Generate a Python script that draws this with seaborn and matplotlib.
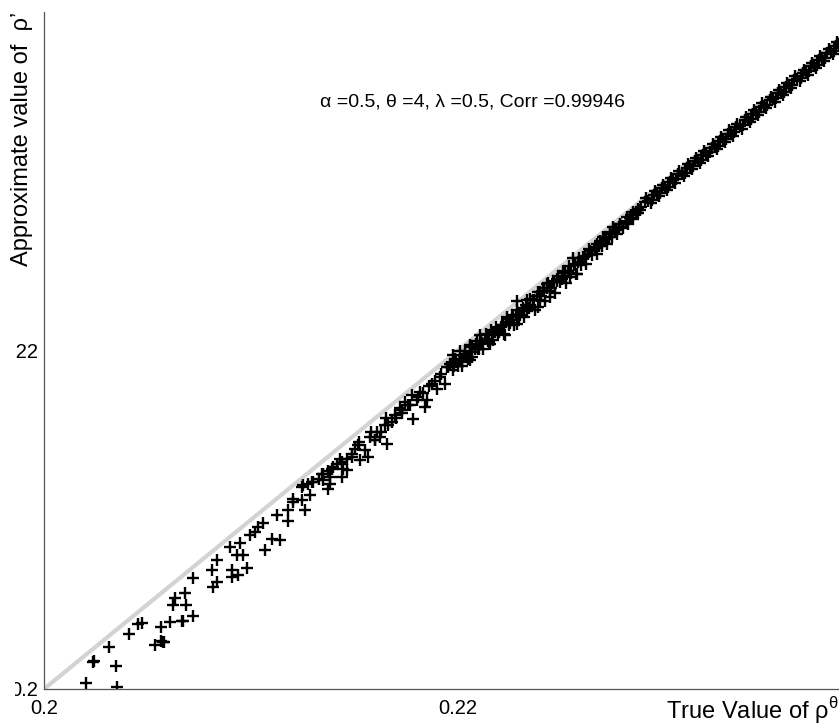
import numpy as np
import pandas as pd
import matplotlib
matplotlib.use("Agg")
import matplotlib.pyplot as plt
import seaborn as sns
from matplotlib.transforms import Bbox, TransformedBbox

# ---- data ----
# sparse lower part of the cloud
sparse_x = [0.20201, 0.20351, 0.20346, 0.20238, 0.20242, 0.20315, 0.20411, 0.20456, 0.20472,
            0.20536, 0.20573, 0.20565, 0.20580, 0.20564, 0.20609, 0.20665, 0.20672, 0.20721,
            0.20625, 0.20633, 0.20681, 0.20686, 0.20721, 0.20815, 0.20834, 0.20810, 0.20834,
            0.20907, 0.20907, 0.20939, 0.20979, 0.20899, 0.20947, 0.20931, 0.20963, 0.21068,
            0.20995, 0.21019, 0.21035, 0.21059, 0.21100, 0.21140, 0.21124, 0.21180, 0.21180,
            0.21204, 0.21204, 0.21261, 0.21245, 0.21285, 0.21245, 0.21277, 0.21301, 0.21342,
            0.21349, 0.21373, 0.21382, 0.21390, 0.21414, 0.21438, 0.21446, 0.21462, 0.21430]
sparse_y = [0.20037, 0.20010, 0.20137, 0.20161, 0.20163, 0.20250, 0.20325, 0.20384, 0.20391,
            0.20260, 0.20279, 0.20284, 0.20275, 0.20364, 0.20394, 0.20403, 0.20400, 0.20431,
            0.20496, 0.20535, 0.20568, 0.20496, 0.20653, 0.20600, 0.20633, 0.20702, 0.20761,
            0.20663, 0.20706, 0.20673, 0.20712, 0.20840, 0.20860, 0.20791, 0.20791, 0.20824,
            0.20909, 0.20928, 0.20958, 0.20978, 0.20889, 0.20879, 0.21027, 0.20993, 0.21056,
            0.21105, 0.21125, 0.21060, 0.21115, 0.21145, 0.21194, 0.21214, 0.21223, 0.21273,
            0.21233, 0.21184, 0.21253, 0.21302, 0.21332, 0.21253, 0.21302, 0.21361, 0.21361]

# middle part, where the cloud narrows into a band
mid_x = [0.21253, 0.21293, 0.21349, 0.21382, 0.21398, 0.21438, 0.21462, 0.21487, 0.21502,
         0.21518, 0.21527, 0.21567, 0.21575, 0.21607, 0.21599, 0.21623, 0.21656, 0.21647,
         0.21680, 0.21696, 0.21728, 0.21784, 0.21768, 0.21744, 0.21808, 0.21816, 0.21841,
         0.21849, 0.21873, 0.21897, 0.21913, 0.21937, 0.21945, 0.21977, 0.21986, 0.22018,
         0.22034, 0.22058, 0.22066, 0.22090,
         0.2133, 0.2137, 0.2144, 0.2149, 0.2152, 0.2155, 0.2160, 0.2163, 0.2166, 0.2170,
         0.2173, 0.2176, 0.2180, 0.2183, 0.2186, 0.2189, 0.2192, 0.2195, 0.2199, 0.2203,
         0.2158, 0.2165, 0.2172, 0.2178]
mid_y = [0.21204, 0.21223, 0.21273, 0.21214, 0.21312, 0.21341, 0.21292, 0.21371, 0.21420,
         0.21440, 0.21351, 0.21371, 0.21489, 0.21518, 0.21469, 0.21489, 0.21450, 0.21558,
         0.21577, 0.21617, 0.21646, 0.21597, 0.21676, 0.21695, 0.21725, 0.21754, 0.21666,
         0.21705, 0.21804, 0.21774, 0.21843, 0.21804, 0.21902, 0.21882, 0.21951, 0.21931,
         0.21981, 0.21941, 0.22020, 0.22040,
         0.2124, 0.2129, 0.2133, 0.2139, 0.2146, 0.2141, 0.2147, 0.2152, 0.2156, 0.2160,
         0.2163, 0.2168, 0.2171, 0.2175, 0.2179, 0.2182, 0.2186, 0.2190, 0.2193, 0.2197,
         0.2152, 0.2160, 0.2166, 0.2174]

# dense band above 0.22
band_x = [0.21977, 0.22010, 0.22058, 0.22090, 0.22106, 0.22155, 0.22171, 0.22227, 0.22211,
          0.22235, 0.22284, 0.22284, 0.22332, 0.22348, 0.22388, 0.22396, 0.22429, 0.22445,
          0.22477, 0.22509, 0.22541, 0.22557, 0.22574, 0.22605, 0.22638, 0.22670, 0.22702,
          0.22734, 0.22750, 0.22783, 0.22815, 0.22847, 0.22871,
          0.2196, 0.2201, 0.2206, 0.2211, 0.2216, 0.2221, 0.2226, 0.2231, 0.2236, 0.2241,
          0.2246, 0.2251, 0.2256, 0.2261, 0.2266, 0.2271, 0.2276, 0.2281, 0.2286,
          0.2198, 0.2203, 0.2208, 0.2213, 0.2218, 0.2223, 0.2228, 0.2233, 0.2238, 0.2243,
          0.2248, 0.2253, 0.2258, 0.2263, 0.2268, 0.2273, 0.2278, 0.2283, 0.2288,
          0.2200, 0.2205, 0.2210, 0.2215, 0.2220, 0.2225, 0.2230, 0.2235, 0.2240, 0.2245,
          0.2250,
          0.21985, 0.22035, 0.22085, 0.22135, 0.22185, 0.22235, 0.22285, 0.22335, 0.22385,
          0.22435, 0.22485, 0.22535, 0.22585, 0.22635, 0.22685, 0.22735, 0.22785, 0.22835,
          0.22885,
          0.22015, 0.22065, 0.22115, 0.22165, 0.22215, 0.22265, 0.22315, 0.22365, 0.22415,
          0.22465, 0.22515, 0.22565, 0.22615, 0.22665, 0.22715, 0.22765, 0.22815, 0.22865,
          0.2202, 0.2207, 0.2212, 0.2217, 0.2222, 0.2227, 0.2232, 0.2237, 0.2242, 0.2247,
          0.2252, 0.2257, 0.2262, 0.2267, 0.2272, 0.2277, 0.2282, 0.2287,
          0.22045, 0.22095, 0.22145, 0.22195, 0.22245, 0.22295, 0.22345, 0.22395, 0.22445,
          0.22495, 0.22545, 0.22595, 0.22645, 0.22695, 0.22745, 0.22795, 0.22845]
band_y = [0.21971, 0.22000, 0.22020, 0.22059, 0.22089, 0.22040, 0.22108, 0.22089, 0.22148,
          0.22187, 0.22158, 0.22295, 0.22236, 0.22305, 0.22256, 0.22344, 0.22394, 0.22315,
          0.22413, 0.22472, 0.22433, 0.22545, 0.22453, 0.22551, 0.22590, 0.22630, 0.22669,
          0.22689, 0.22728, 0.22748, 0.22787, 0.22816, 0.22836,
          0.2192, 0.2195, 0.2203, 0.2205, 0.2212, 0.2214, 0.2221, 0.2224, 0.2230, 0.2235,
          0.2241, 0.2244, 0.2251, 0.2255, 0.2261, 0.2266, 0.2271, 0.2276, 0.2282,
          0.2191, 0.2197, 0.2201, 0.2207, 0.2211, 0.2217, 0.2221, 0.2227, 0.2232, 0.2237,
          0.2242, 0.2247, 0.2252, 0.2257, 0.2262, 0.2267, 0.2273, 0.2278, 0.2283,
          0.2191, 0.2195, 0.2201, 0.2205, 0.2211, 0.2216, 0.2221, 0.2226, 0.2232, 0.2237,
          0.2242,
          0.21942, 0.21998, 0.22040, 0.22097, 0.22141, 0.22196, 0.22242, 0.22296, 0.22343,
          0.22396, 0.22443, 0.22497, 0.22545, 0.22597, 0.22646, 0.22698, 0.22747, 0.22799,
          0.22848,
          0.21940, 0.21992, 0.22045, 0.22094, 0.22148, 0.22197, 0.22250, 0.22299, 0.22352,
          0.22403, 0.22455, 0.22505, 0.22558, 0.22608, 0.22660, 0.22711, 0.22763, 0.22815,
          0.2191, 0.2196, 0.2201, 0.2206, 0.2210, 0.2215, 0.2220, 0.2224, 0.2229, 0.2234,
          0.2240, 0.2245, 0.2251, 0.2257, 0.2263, 0.2269, 0.2275, 0.2281,
          0.21960, 0.22008, 0.22055, 0.22102, 0.22150, 0.22198, 0.22250, 0.22300, 0.22352,
          0.22402, 0.22455, 0.22508, 0.22562, 0.22615, 0.22668, 0.22722, 0.22776]

# upper thick band (top right)
top_x = [0.2291, 0.2295, 0.2299, 0.2303, 0.2307, 0.2311, 0.2315, 0.2319, 0.2323, 0.2327,
         0.2331, 0.2335, 0.2339, 0.2343, 0.2347, 0.2351, 0.2355, 0.2359, 0.2363, 0.2367,
         0.2371, 0.2375, 0.2379, 0.2383, 0.2387,
         0.2293, 0.2297, 0.2301, 0.2305, 0.2309, 0.2313, 0.2317, 0.2321, 0.2325, 0.2329,
         0.2333, 0.2337, 0.2341, 0.2345, 0.2349, 0.2353, 0.2357, 0.2361, 0.2365, 0.2369,
         0.2373, 0.2377, 0.2381, 0.2385,
         0.2292, 0.2296, 0.2300, 0.2304, 0.2308, 0.2312, 0.2316, 0.2320, 0.2324, 0.2328,
         0.2332, 0.2336, 0.2340, 0.2344, 0.2348, 0.2352, 0.2356, 0.2360, 0.2364, 0.2368,
         0.2372, 0.2376, 0.2380, 0.2384, 0.2388,
         0.22905, 0.22945, 0.22985, 0.23025, 0.23065, 0.23105, 0.23145, 0.23185, 0.23225,
         0.23265, 0.23305, 0.23345, 0.23385, 0.23425, 0.23465, 0.23505, 0.23545, 0.23585,
         0.23625, 0.23665, 0.23705, 0.23745, 0.23785, 0.23825, 0.23865,
         0.22935, 0.22975, 0.23015, 0.23055, 0.23095, 0.23135, 0.23175, 0.23215, 0.23255,
         0.23295, 0.23335, 0.23375, 0.23415, 0.23455, 0.23495, 0.23535, 0.23575, 0.23615,
         0.23655, 0.23695, 0.23735, 0.23775, 0.23815, 0.23855]
top_y = [0.2290, 0.2294, 0.2298, 0.2302, 0.2306, 0.2310, 0.2314, 0.2318, 0.2322, 0.2326,
         0.2330, 0.2334, 0.2338, 0.2342, 0.2346, 0.2350, 0.2354, 0.2358, 0.2362, 0.2366,
         0.2370, 0.2374, 0.2378, 0.2382, 0.2386,
         0.2287, 0.2291, 0.2295, 0.2299, 0.2303, 0.2307, 0.2311, 0.2315, 0.2319, 0.2323,
         0.2327, 0.2331, 0.2335, 0.2339, 0.2343, 0.2347, 0.2351, 0.2355, 0.2359, 0.2363,
         0.2367, 0.2371, 0.2375, 0.2379,
         0.22885, 0.22928, 0.22962, 0.23008, 0.23042, 0.23088, 0.23122, 0.23168, 0.23202,
         0.23248, 0.23282, 0.23328, 0.23362, 0.23408, 0.23442, 0.23488, 0.23522, 0.23568,
         0.23602, 0.23648, 0.23682, 0.23728, 0.23762, 0.23808, 0.23842,
         0.22880, 0.22916, 0.22960, 0.22997, 0.23040, 0.23077, 0.23120, 0.23157, 0.23199,
         0.23237, 0.23279, 0.23318, 0.23359, 0.23397, 0.23438, 0.23478, 0.23519, 0.23557,
         0.23598, 0.23638, 0.23679, 0.23717, 0.23759, 0.23797, 0.23839,
         0.22888, 0.22932, 0.22968, 0.23011, 0.23049, 0.23092, 0.23128, 0.23171, 0.23208,
         0.23251, 0.23289, 0.23331, 0.23368, 0.23411, 0.23448, 0.23491, 0.23528, 0.23571,
         0.23608, 0.23651, 0.23688, 0.23731, 0.23768, 0.23811]

ref_line = [0.2, 0.24]          # y = x reference
x_ticks = [0.2, 0.22]
x_tick_labels = ["0.2", "0.22"]
y_ticks = [0.2, 0.22]
y_tick_labels = ["0.2", "0.22"]
annotation = "\u03b1 =0.5, \u03b8 =4, \u03bb =0.5, Corr =0.99946"
x_label = "True Value of \u03c1$^{\\mathregular{\u03b8}}$"
y_label = "Approximate value of  \u03c1\u2019"

df = pd.DataFrame({
    "true": sparse_x + mid_x + band_x + top_x,
    "approx": sparse_y + mid_y + band_y + top_y,
})
ref = pd.DataFrame({"a": ref_line, "b": ref_line})

# ---- style ----
sns.set_theme(style="white")
plt.rcParams["font.family"] = ["Liberation Sans", "DejaVu Sans"]
plt.rcParams["mathtext.fontset"] = "custom"
plt.rcParams["mathtext.rm"] = "Liberation Sans"

W, H = 839, 725
fig = plt.figure(figsize=(W / 100, H / 100), dpi=100)
ax = fig.add_axes([44 / W, (H - 689) / H, 828 / W, 677 / H])

sns.lineplot(data=ref, x="a", y="b", ax=ax, color="#d3d3d3", linewidth=3.0, zorder=1)
sns.scatterplot(data=df, x="true", y="approx", ax=ax, marker="+", color="black",
                s=75, linewidth=1.7, zorder=2)

ax.set_xlim(0.2, 0.24)
ax.set_ylim(0.2, 0.24)
ax.set_xticks(x_ticks)
ax.set_xticklabels(x_tick_labels)
ax.set_yticks(y_ticks)
ax.set_yticklabels(y_tick_labels)

for side in ["top", "right"]:
    ax.spines[side].set_visible(False)
for side in ["left", "bottom"]:
    ax.spines[side].set_color("#555555")
    ax.spines[side].set_linewidth(0.9)

ax.tick_params(axis="both", direction="in", length=6, width=0.8, color="#555555",
               labelsize=14.5, labelcolor="black")
ax.tick_params(axis="x", pad=7)
ax.tick_params(axis="y", pad=4)

ax.set_xlabel(x_label, fontsize=17, ha="right", va="top", color="black")
ax.xaxis.set_label_coords((838 - 44) / 828, -0.008)
ax.set_ylabel(y_label, fontsize=17, ha="right", va="center", color="black")
ax.yaxis.set_label_coords(-(44 - 22) / 828, 1.0)

ax.text(0.518, 0.867, annotation, transform=ax.transAxes, ha="center", va="center",
        fontsize=14, color="black")

# the reference is cropped: tick labels on the left are cut at x = 15 px
clipbox = TransformedBbox(Bbox([[15 / W, 0], [1, 1]]), fig.transFigure)
for lab in ax.get_yticklabels():
    lab.set_clip_box(clipbox)
    lab.set_clip_on(True)

fig.savefig("out.png", dpi=100)
